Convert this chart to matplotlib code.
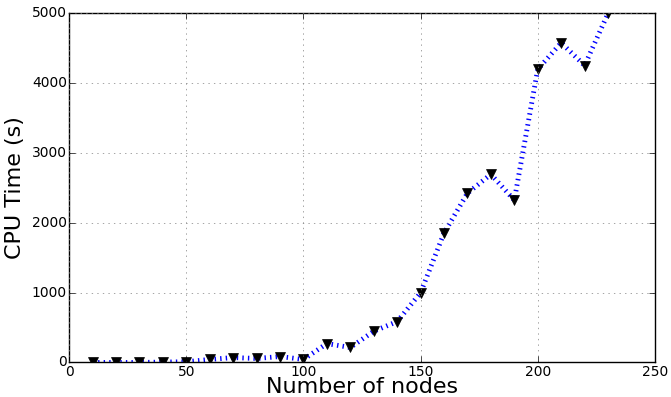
import matplotlib
matplotlib.use('Agg')
import matplotlib.pyplot as plt

nodes = [10, 20, 30, 40, 50, 60, 70, 80, 90, 100, 110, 120, 130, 140, 150,
         160, 170, 180, 190, 200, 210, 220, 230]
cpu_time = [0, 0, 0, 5, 10, 43, 70, 57, 85, 43, 270, 214, 446, 584, 997,
            1850, 2420, 2690, 2320, 4190, 4570, 4245, 4990]

plt.style.use('classic')
fig = plt.figure(figsize=(6.71, 3.97), dpi=100, facecolor='white')
ax = fig.add_axes([0.103, 0.087, 0.873, 0.881])
ax.plot(nodes, cpu_time, color='blue', linestyle=':', linewidth=3.5,
        marker='v', markersize=7, markerfacecolor='black', markeredgecolor='black')
ax.set_xlim(0, 250)
ax.set_ylim(0, 5000)
ax.grid(True, color='gray', linestyle=':')
ax.tick_params(labelsize=10, pad=1.5)
ax.set_xlabel('Number of nodes', fontsize=16, labelpad=-1)
ax.set_ylabel('CPU Time (s)', fontsize=16)
fig.savefig('out.png', dpi=100, facecolor='white')
